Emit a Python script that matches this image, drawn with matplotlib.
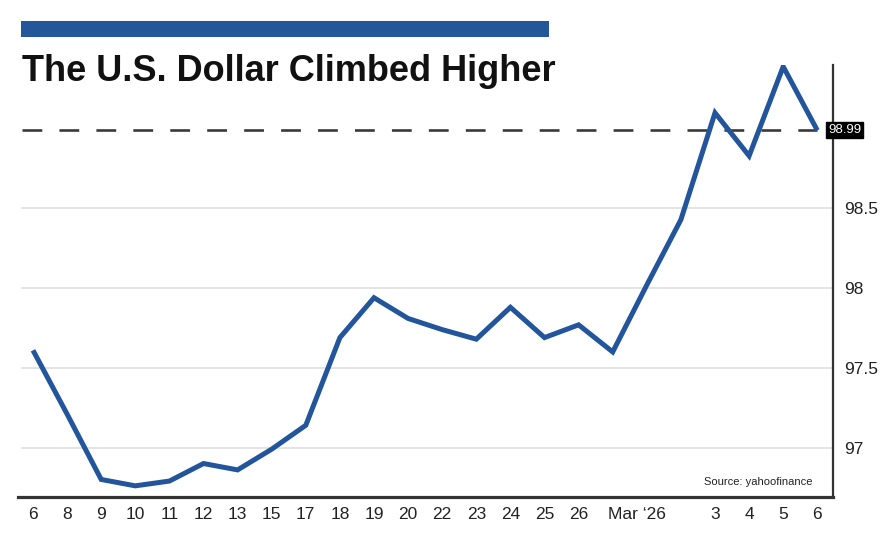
import matplotlib
matplotlib.use("Agg")
import matplotlib.pyplot as plt
import matplotlib.transforms as mtransforms
from matplotlib.patches import Rectangle

# ---- data ----
labels = ["6", "8", "9", "10", "11", "12", "13", "15", "17", "18", "19", "20",
          "22", "23", "24", "25", "26", "", "Mar \u201826", "", "3", "4", "5", "6"]
values = [97.61, 97.21, 96.80, 96.76, 96.79, 96.90, 96.86, 96.99, 97.14, 97.69,
          97.94, 97.81, 97.74, 97.68, 97.88, 97.69, 97.77, 97.60, 98.02, 98.43,
          99.10, 98.83, 99.39, 98.99]
last_value = 98.99
y_ticks = [97, 97.5, 98, 98.5]
y_tick_labels = ["97", "97.5", "98", "98.5"]
title = "The U.S. Dollar Climbed Higher"
source = "Source: yahoofinance"

plt.rcParams['font.family'] = ['Liberation Sans', 'DejaVu Sans']

W, H = 888, 533
fig = plt.figure(figsize=(W / 100, H / 100), dpi=100)
fig.patch.set_facecolor("white")

# axes in pixel coords
left_px, right_px, top_px, bottom_px = 18, 833, 65, 497
ax = fig.add_axes([left_px / W, 1 - bottom_px / H,
                   (right_px - left_px) / W, (bottom_px - top_px) / H])

x = list(range(len(values)))
line_color = "#22559b"

ax.set_xlim(-0.44, 23.46)
ax.set_ylim(96.69, 99.40)

# gridlines
for yv in y_ticks:
    ax.axhline(yv, xmin=0.005, xmax=1, color="#dcdcdc", lw=1.1, zorder=1)

# dashed reference line at last value
ax.plot([-0.32, x[-1]], [last_value, last_value], color="#3a3a3a", lw=1.9,
        dashes=(7.5, 6.5), zorder=2, solid_capstyle="butt")

# main line
ax.plot(x, values, color=line_color, lw=3.6, solid_joinstyle="miter",
        solid_capstyle="butt", zorder=3)

# spines
for s in ["left", "top"]:
    ax.spines[s].set_visible(False)
ax.spines["bottom"].set_color("#333333")
ax.spines["bottom"].set_linewidth(2.3)
ax.spines["right"].set_color("#333333")
ax.spines["right"].set_linewidth(1.6)

# y ticks on right
ax.yaxis.tick_right()
ax.set_yticks(y_ticks)
ax.set_yticklabels(y_tick_labels)
ax.tick_params(axis="y", length=0, pad=8, labelsize=12.5, labelcolor="#222222")

# x ticks
ax.set_xticks(x)
ax.set_xticklabels(labels)
ax.tick_params(axis="x", length=0, pad=7, labelsize=12.5, labelcolor="#222222")
for lbl in ax.get_xticklabels():
    if lbl.get_text().startswith("Mar"):
        lbl.set_transform(lbl.get_transform() +
                          mtransforms.ScaledTranslation(-10 / 100, 0, fig.dpi_scale_trans))

# last value label box
ax.annotate(f"{last_value:.2f}", xy=(1, last_value),
            xycoords=("axes fraction", "data"),
            xytext=(-3.5, 0), textcoords="offset points",
            ha="left", va="center", fontsize=9.5, color="white",
            bbox=dict(boxstyle="square,pad=0.15", fc="black", ec="black"),
            annotation_clip=False, zorder=5)

# source
ax.text(0.975, 0.035, source, transform=ax.transAxes, ha="right", va="center",
        fontsize=8, color="#222222")

# top blue bar
fig.patches.append(Rectangle((21 / W, 1 - 37 / H), (549 - 21) / W, 16 / H,
                             transform=fig.transFigure, facecolor="#24579a",
                             edgecolor="none"))

# title
fig.text(22 / W, 1 - 81 / H, title, ha="left", va="baseline", fontsize=26,
         fontweight="bold", color="#111111")

fig.savefig("out.png", dpi=100, facecolor="white")
